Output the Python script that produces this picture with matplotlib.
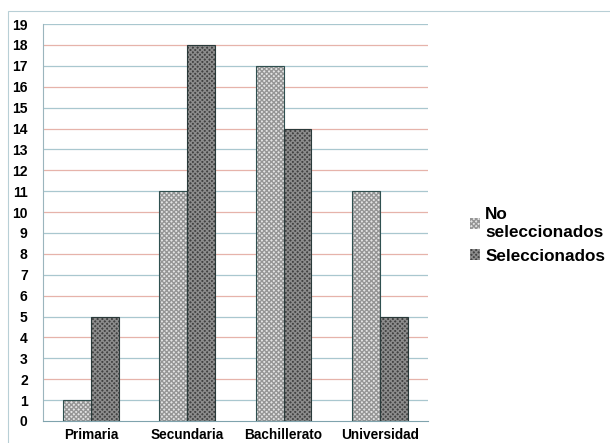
import matplotlib
matplotlib.use("Agg")
import matplotlib.pyplot as plt
import numpy as np

plt.rcParams['font.family'] = ['Liberation Sans', 'DejaVu Sans']

# data
categorias = ['Primaria', 'Secundaria', 'Bachillerato', 'Universidad']
no_seleccionados = [1, 11, 17, 11]
seleccionados = [5, 18, 14, 5]
series_labels = ['No\nseleccionados', 'Seleccionados']

fig = plt.figure(figsize=(6.10, 4.43), dpi=100)
ax = fig.add_axes([0.0705, 0.0497, 0.631, 0.896])

# outer frame of chart
fig.patches.append(plt.Rectangle((8 / 610, -0.01), 1.0, 1 - 11 / 443 + 0.01,
                                 transform=fig.transFigure, fill=False,
                                 edgecolor='#b8cfd6', linewidth=0.8))

x = np.arange(len(categorias))
w = 0.29

# gridlines alternating colours
for v in range(1, 20):
    col = '#e6b3aa' if v % 2 == 0 else '#a9c7cf'
    ax.axhline(v, color=col, linewidth=0.9, zorder=0)

b1 = ax.bar(x - w / 2, no_seleccionados, w, color='#e4e4e4', hatch='xxxxxxx',
            edgecolor='#959595', linewidth=0, zorder=2)
b2 = ax.bar(x + w / 2, seleccionados, w, color='#424242', hatch='xxxxxxx',
            edgecolor='#8c8c8c', linewidth=0, zorder=2)
# outlines
ax.bar(x - w / 2, no_seleccionados, w, fill=False, edgecolor='#2f5050',
       linewidth=0.8, zorder=3)
ax.bar(x + w / 2, seleccionados, w, fill=False, edgecolor='#2a3a3a',
       linewidth=0.8, zorder=3)

ax.set_xlim(-0.5, 3.5)
ax.set_ylim(0, 19)
ax.set_yticks(range(0, 20))
ax.set_xticks(x)
ax.set_xticklabels(categorias, fontsize=9.8, fontweight='bold')
for lab in ax.get_yticklabels():
    lab.set_fontsize(10)
    lab.set_fontweight('bold')
ax.tick_params(axis='both', length=0)
ax.tick_params(axis='y', pad=11)
ax.tick_params(axis='x', pad=5)

for s in ['top', 'right']:
    ax.spines[s].set_visible(False)
ax.spines['left'].set_color('#9bb5bd')
ax.spines['bottom'].set_color('#7fa3ad')

leg = fig.legend([b1, b2], series_labels, loc='upper left',
                 bbox_to_anchor=(0.745, 0.568), frameon=False,
                 prop={'size': 12.3, 'weight': 'bold'},
                 handlelength=0.6, handleheight=0.6, handletextpad=0.3,
                 labelspacing=0.5)
for t in leg.get_texts():
    t.set_multialignment('left')
    t.set_linespacing(1.3)

fig.savefig('out.png', dpi=100)
